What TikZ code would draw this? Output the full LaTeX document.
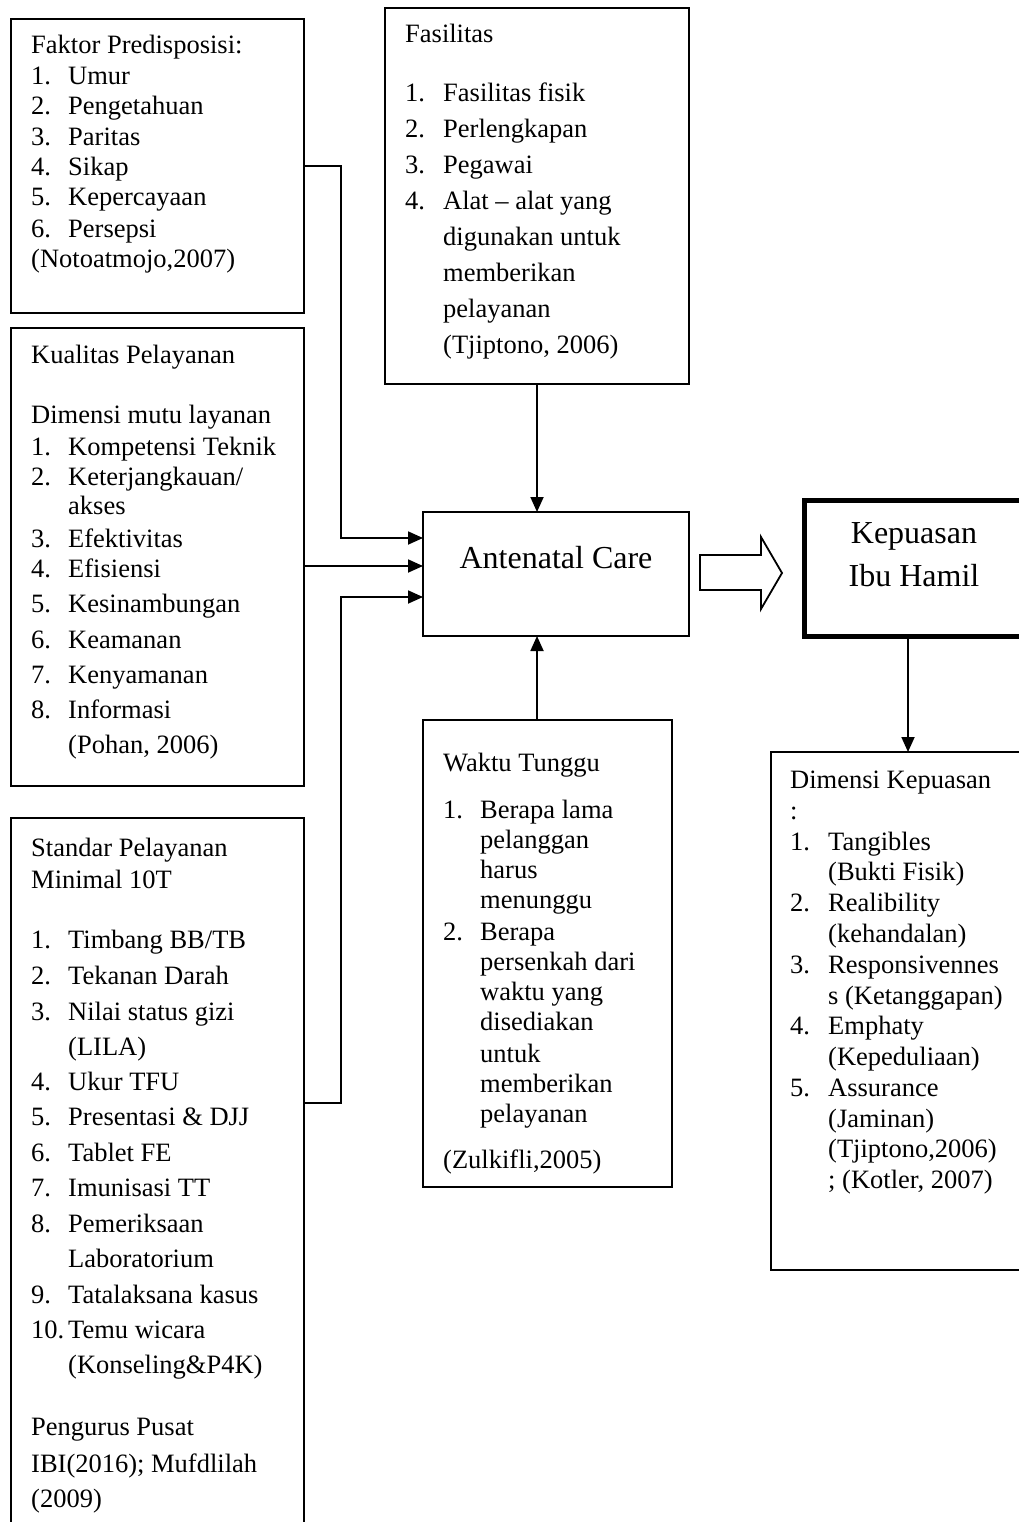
\documentclass[tikz,border=0pt]{standalone}
\usepackage{fontspec}
\setmainfont{Liberation Serif}
\usetikzlibrary{arrows.meta}

% One text line per node: y / number (or unindented text) / indented text.
\newcommand{\boxlines}[4]{%
  \foreach \y/\nr/\tx [count=\i] in {#4}{
    \node[txt] (#1n\i) at (#2,\y) {\nr};
    \node[txt] (#1t\i) at (#3,\y) {\tx};
  }}

\begin{document}
\begin{tikzpicture}[x=1pt,y=-1pt,
  box/.style={draw,line width=1.8pt,inner sep=0pt,outer sep=0pt,anchor=north west},
  txt/.style={anchor=base west,inner sep=0pt,font=\fontsize{26.5}{30}\selectfont},
  big/.style={anchor=base,inner sep=0pt,font=\fontsize{32}{38}\selectfont},
  arr/.style={line width=1.8pt,-{Triangle[length=15pt,width=13pt]}}]
  \useasboundingbox (0,0) rectangle (1019,1522);
  \clip (0,0) rectangle (1019,1522);
  \fill[white] (0,0) rectangle (1019,1522);

  % Boxes; std, kep and dim run past the page edge as in the scan.
  \node[box,minimum width=293pt,minimum height=294pt] (fak) at (11,19) {};
  \node[box,minimum width=293pt,minimum height=458pt] (kua) at (11,328) {};
  \node[box,minimum width=293pt,minimum height=760pt] (std) at (11,818) {};
  \node[box,minimum width=304pt,minimum height=376pt] (fas) at (385,8) {};
  \node[box,minimum width=266pt,minimum height=124pt] (ante) at (423,512) {};
  \node[box,minimum width=249pt,minimum height=467pt] (wak) at (423,720) {};
  \node[box,line width=5pt,minimum width=225pt,minimum height=136pt] (kep) at (804.5,500.5) {};
  \node[box,minimum width=259pt,minimum height=518pt] (dim) at (771,752) {};

  \node[big] (antetxt) at (556,568) {Antenatal Care};
  \node[big] (kep1) at (914,543) {Kepuasan};
  \node[big] (kep2) at (914,586) {Ibu Hamil};

  % Box texts.
  \boxlines{fak}{31}{68}{54/{Faktor Predisposisi:}/{}, 85/1./Umur,
    115/2./Pengetahuan, 146/3./Paritas, 176/4./Sikap, 206/5./Kepercayaan,
    237/6./Persepsi, 268/{(Notoatmojo,2007)}/{}}
  \boxlines{fas}{405}{443}{43/Fasilitas/{}, 102/1./{Fasilitas fisik},
    138/2./Perlengkapan, 174/3./Pegawai, 210/4./{Alat -- alat yang},
    246//{digunakan untuk}, 281//memberikan, 317//pelayanan,
    353//{(Tjiptono, 2006)}}
  \boxlines{kua}{31}{68}{363/{Kualitas Pelayanan}/{}, 423/{Dimensi mutu layanan}/{},
    455/1./{Kompetensi Teknik}, 485/2./{Keterjangkauan/}, 514//akses,
    547/3./Efektivitas, 577/4./Efisiensi, 612/5./Kesinambungan,
    648/6./Keamanan, 683/7./Kenyamanan, 718/8./Informasi,
    753//{(Pohan, 2006)}}
  \boxlines{std}{31}{68}{856/{Standar Pelayanan}/{}, 888/{Minimal 10T}/{},
    948/1./{Timbang BB/TB}, 984/2./{Tekanan Darah}, 1020/3./{Nilai status gizi},
    1055//(LILA), 1090/4./{Ukur TFU}, 1125/5./{Presentasi \& DJJ},
    1161/6./{Tablet FE}, 1196/7./{Imunisasi TT}, 1232/8./Pemeriksaan,
    1267//Laboratorium, 1303/9./{Tatalaksana kasus}, 1338/10./{Temu wicara},
    1373//{(Konseling\&P4K)}, 1435/{Pengurus Pusat}/{},
    1472/{IBI(2016); Mufdlilah}/{}, 1507/(2009)/{}}
  \boxlines{wak}{443}{480}{771/{Waktu Tunggu}/{}, 818/1./{Berapa lama},
    848//pelanggan, 878//harus, 908//menunggu, 940/2./Berapa,
    970//{persenkah dari}, 1000//{waktu yang}, 1030//disediakan,
    1062//untuk, 1092//memberikan, 1122//pelayanan,
    1168/{(Zulkifli,2005)}/{}}
  \boxlines{dim}{790}{828}{788/{Dimensi Kepuasan}/{}, 819/:/{},
    850/1./Tangibles, 880//{(Bukti Fisik)}, 911/2./Realibility,
    942//(kehandalan), 973/3./Responsivennes, 1004//{s (Ketanggapan)},
    1034/4./Emphaty, 1065//(Kepeduliaan), 1096/5./Assurance,
    1127//(Jaminan), 1157//{(Tjiptono,2006)}, 1188//{; (Kotler, 2007)}}

  % Inputs into Antenatal Care.
  \coordinate (in1) at ([yshift=36pt]ante.west);
  \coordinate (in2) at ([yshift=8pt]ante.west);
  \coordinate (in3) at ([yshift=-23pt]ante.west);
  \draw[arr] (fak.east) -- ++(37,0) |- (in1);
  \draw[arr] (kua.east |- in2) -- (in2);
  \draw[arr] (std.east |- 0,1103) -- ++(37,0) |- (in3);
  \draw[arr] (fas.south) -- (fas.south |- ante.north);
  \draw[arr] (wak.north -| fas.south) -- (fas.south |- ante.south);

  % Hollow block arrow and the satisfaction branch.
  \draw[line width=1.8pt] (700,555) -- (761,555) -- (761,537) -- (782,573)
    -- (761,609) -- (761,590) -- (700,590) -- cycle;
  \coordinate (kepout) at ([xshift=-9pt]kep.south);
  \draw[arr] (kepout) -- (kepout |- dim.north);
\end{tikzpicture}
\end{document}
